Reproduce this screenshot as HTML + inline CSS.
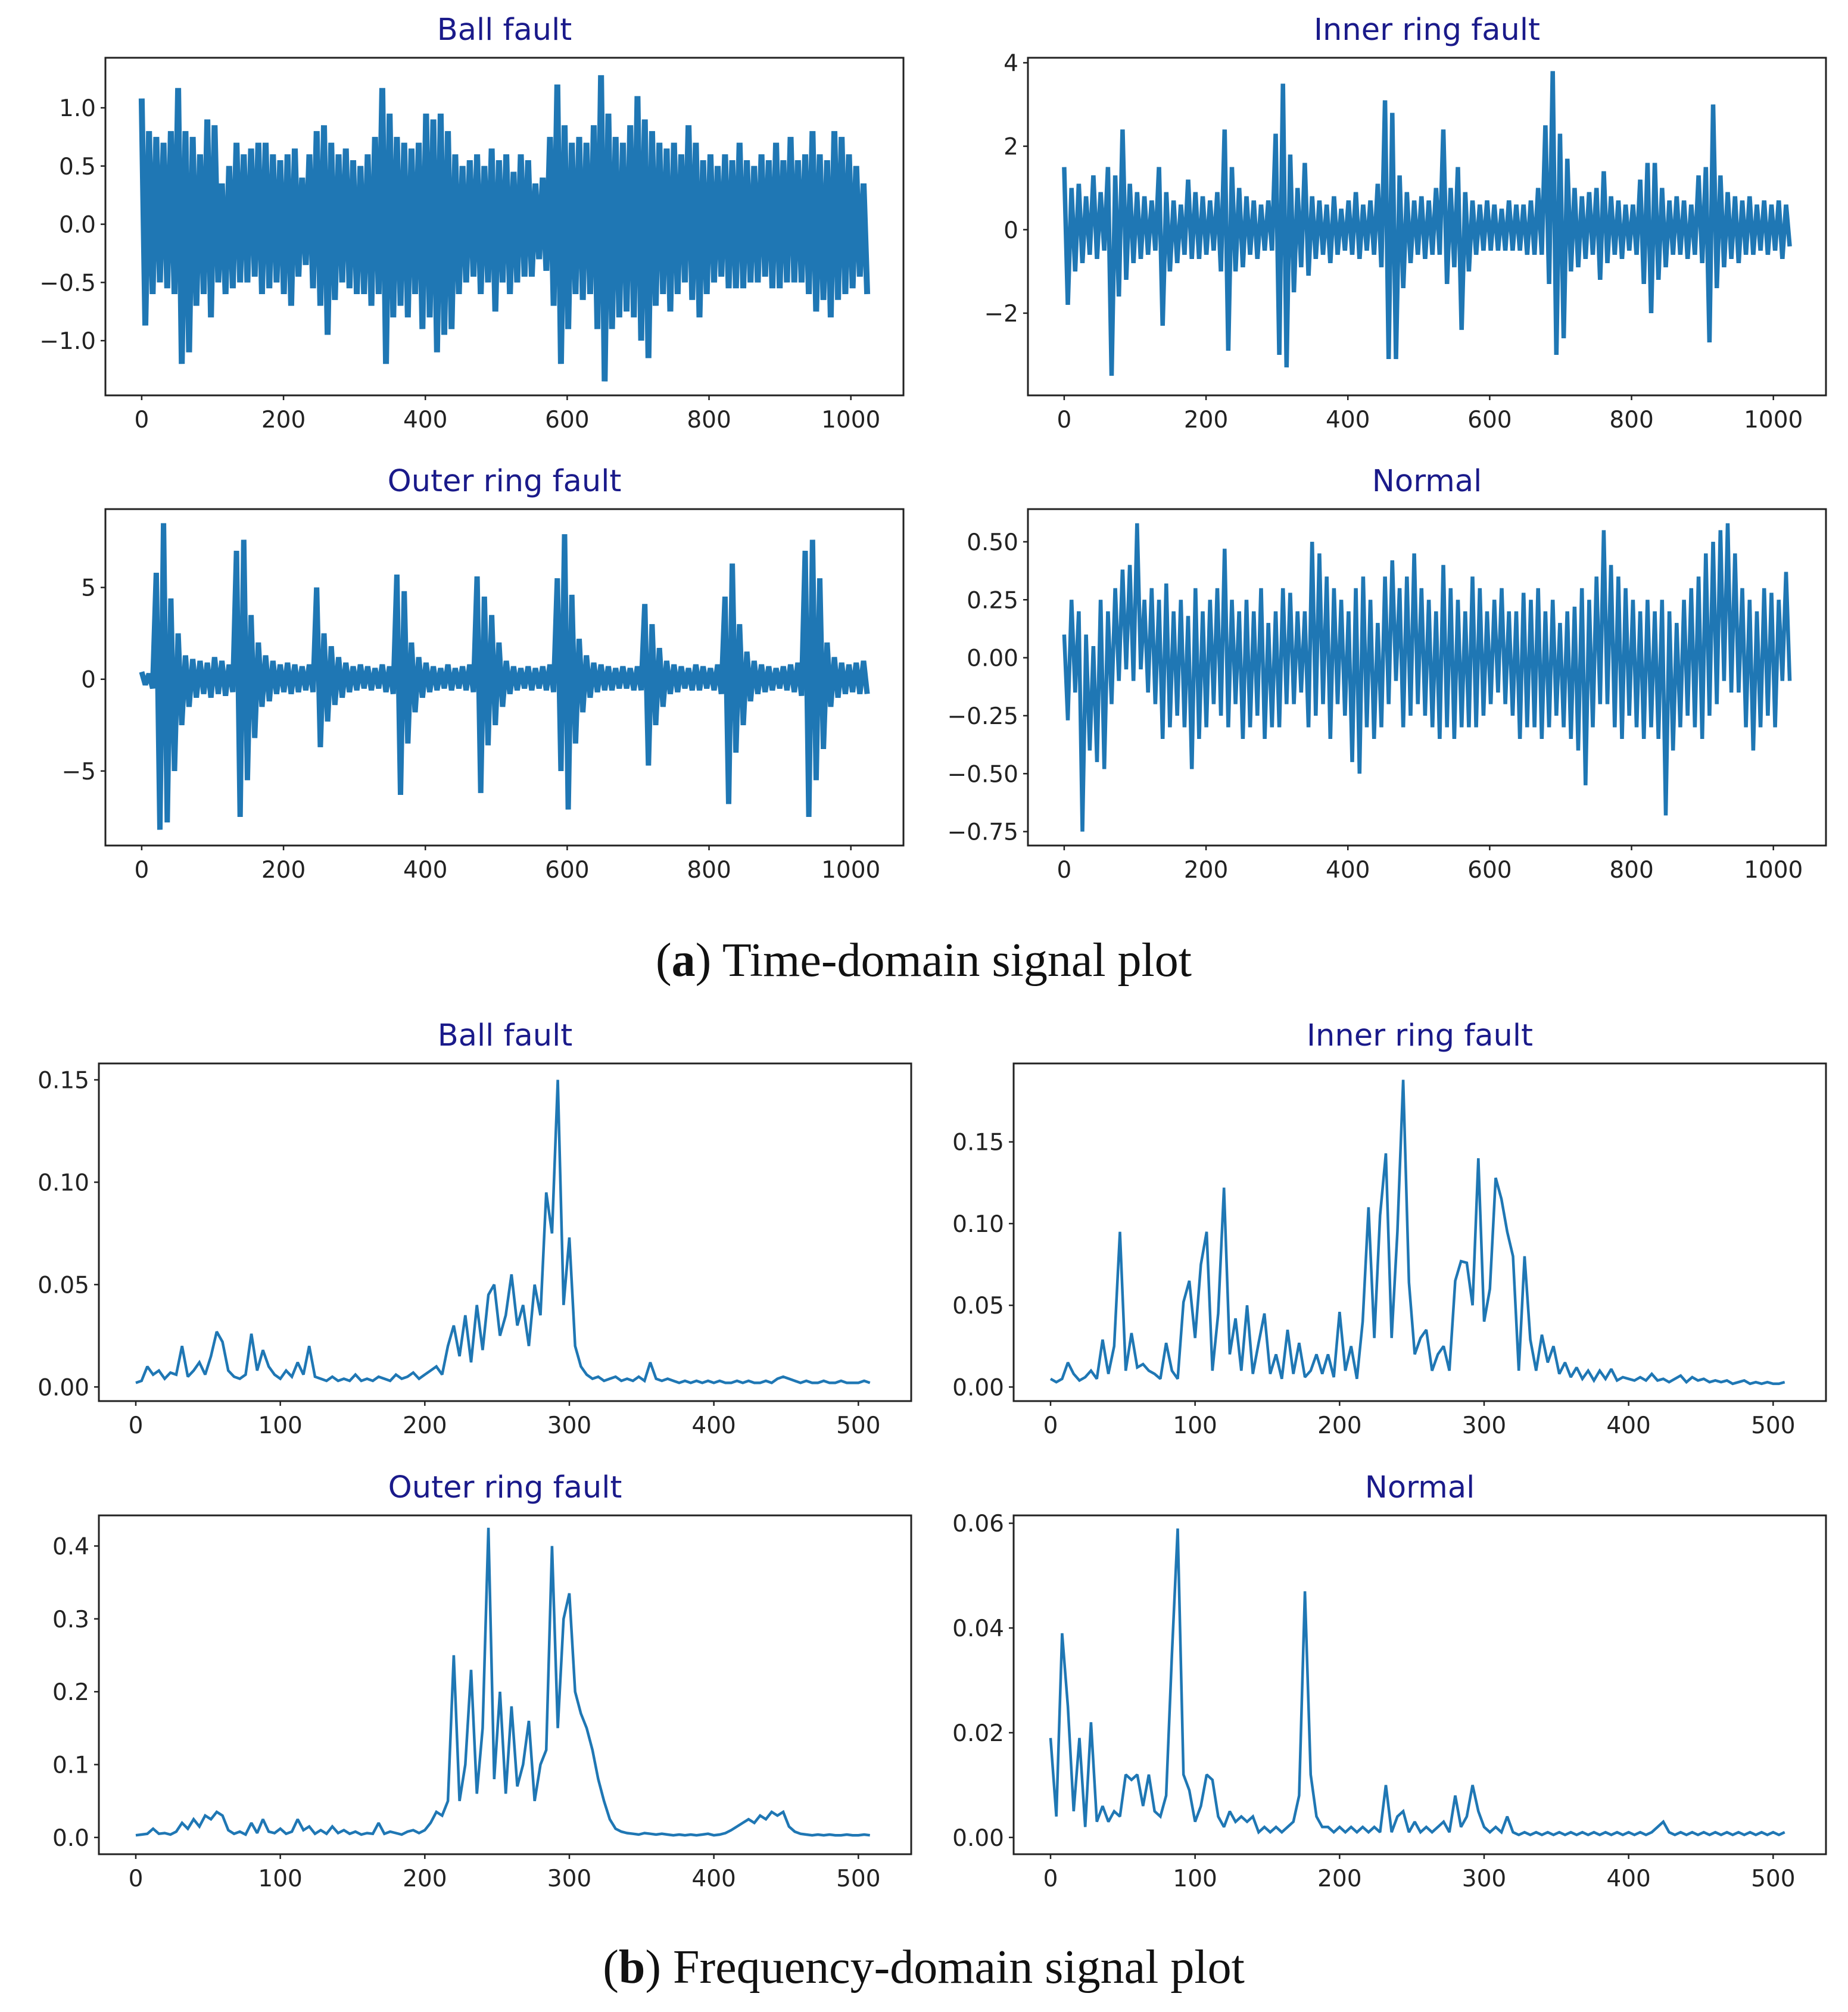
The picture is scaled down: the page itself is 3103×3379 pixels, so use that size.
<!DOCTYPE html>
<html><head><meta charset="utf-8">
<style>
html,body{margin:0;padding:0;background:#fff;}
svg{display:block;}
.tick{font-family:"DejaVu Sans","Liberation Sans",sans-serif;font-size:39px;fill:#222;}
.ttl{font-family:"DejaVu Sans","Liberation Sans",sans-serif;font-size:51px;fill:#1a1a8a;}
.cap{font-family:"Liberation Serif",serif;font-size:80px;fill:#111;}
</style></head>
<body>
<svg id="fig" width="3103" height="3379" viewBox="0 0 3103 3379" xmlns="http://www.w3.org/2000/svg">
<text class="cap" x="1551" y="1639" text-anchor="middle">(<tspan font-weight="bold">a</tspan>) Time-domain signal plot</text>
<text class="cap" x="1551" y="3330" text-anchor="middle">(<tspan font-weight="bold">b</tspan>) Frequency-domain signal plot</text>
</svg>
<script>
// ---- Time-domain data (alternating local max / min, evenly spread over samples 0..1023)
const ballTime=[1.08,-0.87,0.8,-0.6,0.75,-0.5,0.7,-0.55,0.8,-0.6,1.17,-1.2,0.8,-1.1,0.75,-0.7,0.6,-0.6,0.9,-0.8,0.85,-0.5,0.35,-0.6,0.5,-0.55,0.7,-0.5,0.6,-0.5,0.65,-0.45,0.7,-0.6,0.7,-0.55,0.6,-0.5,0.55,-0.6,0.6,-0.7,0.65,-0.45,0.4,-0.35,0.6,-0.55,0.8,-0.7,0.85,-0.95,0.7,-0.65,0.6,-0.5,0.65,-0.55,0.55,-0.6,0.5,-0.6,0.6,-0.7,0.75,-0.6,1.17,-1.2,0.95,-0.8,0.75,-0.7,0.7,-0.8,0.65,-0.6,0.7,-0.9,0.95,-0.8,0.9,-1.1,0.95,-0.95,0.8,-0.9,0.6,-0.6,0.5,-0.5,0.55,-0.45,0.6,-0.6,0.5,-0.5,0.65,-0.75,0.55,-0.5,0.6,-0.6,0.45,-0.5,0.6,-0.45,0.55,-0.45,0.35,-0.3,0.4,-0.4,0.75,-0.7,1.2,-1.2,0.85,-0.9,0.7,-0.6,0.75,-0.65,0.7,-0.6,0.85,-0.9,1.28,-1.35,0.95,-0.9,0.75,-0.8,0.7,-0.75,0.85,-0.8,1.1,-1.0,0.9,-1.15,0.8,-0.7,0.7,-0.6,0.65,-0.75,0.7,-0.6,0.6,-0.5,0.85,-0.65,0.7,-0.8,0.55,-0.6,0.6,-0.5,0.5,-0.45,0.6,-0.55,0.55,-0.55,0.7,-0.55,0.55,-0.5,0.5,-0.5,0.6,-0.45,0.55,-0.55,0.7,-0.55,0.55,-0.5,0.75,-0.5,0.55,-0.5,0.6,-0.6,0.8,-0.75,0.6,-0.65,0.55,-0.8,0.8,-0.65,0.75,-0.6,0.6,-0.55,0.5,-0.45,0.35,-0.6];
const innerTime=[1.5,-1.8,1.0,-1.0,1.1,-0.8,0.8,-0.6,1.3,-0.7,0.9,-0.5,1.5,-3.5,1.3,-1.6,2.4,-1.2,1.1,-0.8,0.9,-0.7,0.8,-0.6,0.7,-0.5,1.5,-2.3,0.9,-1.0,0.7,-0.8,0.6,-0.6,1.2,-0.7,0.9,-0.7,0.8,-0.6,0.7,-0.5,0.9,-1.0,2.4,-2.9,1.5,-1.0,1.0,-0.9,0.8,-0.6,0.7,-0.7,0.6,-0.5,0.7,-0.5,2.3,-3.0,3.5,-3.3,1.8,-1.5,1.0,-0.9,1.6,-1.1,0.8,-0.7,0.7,-0.6,0.6,-0.8,0.8,-0.6,0.5,-0.5,0.7,-0.6,0.9,-0.7,0.6,-0.5,0.7,-0.6,1.1,-0.9,3.1,-3.1,2.8,-3.1,1.3,-1.4,0.9,-0.8,0.7,-0.6,0.8,-0.7,0.7,-0.6,1.0,-0.6,2.4,-1.3,1.0,-0.9,1.5,-2.4,0.9,-1.0,0.7,-0.6,0.6,-0.5,0.7,-0.5,0.6,-0.5,0.5,-0.5,0.7,-0.5,0.6,-0.5,0.6,-0.6,0.7,-0.6,1.0,-0.6,2.5,-1.3,3.8,-3.0,2.3,-2.6,1.7,-1.0,1.0,-0.9,0.8,-0.7,0.9,-0.6,1.0,-1.2,1.4,-0.8,0.8,-0.6,0.7,-0.7,0.6,-0.5,0.6,-0.6,1.2,-1.3,1.6,-2.0,1.6,-1.2,1.0,-0.9,0.7,-0.6,0.8,-0.6,0.7,-0.7,0.6,-0.6,1.3,-0.8,1.5,-2.7,3.0,-1.4,1.3,-0.9,0.9,-0.7,0.8,-0.8,0.7,-0.6,0.8,-0.6,0.6,-0.5,0.7,-0.6,0.6,-0.5,0.7,-0.7,0.6,-0.4];
const outerTime=[0.4,-0.3,0.3,-0.5,5.8,-8.2,8.5,-7.8,4.4,-5.0,2.5,-2.5,1.3,-1.5,1.1,-1.0,1.0,-0.8,0.9,-1.0,1.2,-0.8,1.0,-0.9,0.8,-0.7,7.0,-7.5,7.6,-5.5,3.5,-3.2,2.0,-1.5,1.3,-1.2,1.0,-0.8,0.8,-0.7,0.9,-0.8,0.8,-0.7,0.7,-0.6,0.8,-0.7,5.0,-3.7,2.5,-2.3,1.8,-1.4,1.2,-1.0,0.9,-0.7,0.7,-0.6,0.8,-0.5,0.7,-0.6,0.6,-0.5,0.8,-0.7,0.7,-0.8,5.7,-6.3,4.8,-3.5,2.0,-1.8,1.2,-1.0,0.9,-0.7,0.7,-0.6,0.6,-0.5,0.8,-0.6,0.6,-0.5,0.7,-0.6,0.8,-0.7,5.6,-6.2,4.5,-3.6,3.5,-2.5,2.0,-1.5,1.0,-0.8,0.7,-0.6,0.6,-0.5,0.7,-0.6,0.6,-0.5,0.7,-0.6,0.8,-0.7,5.5,-5.0,7.9,-7.1,4.6,-3.5,2.2,-1.8,1.3,-1.0,0.9,-0.7,0.8,-0.6,0.7,-0.6,0.6,-0.5,0.7,-0.5,0.6,-0.6,0.7,-0.6,4.1,-4.7,3.0,-2.5,1.7,-1.5,1.0,-0.8,0.8,-0.7,0.7,-0.5,0.6,-0.6,0.8,-0.6,0.7,-0.5,0.6,-0.6,0.8,-0.8,4.5,-6.8,6.3,-4.0,3.0,-2.5,1.5,-1.2,1.0,-0.8,0.8,-0.7,0.7,-0.6,0.6,-0.5,0.7,-0.6,0.8,-0.7,0.9,-0.9,7.0,-7.5,7.6,-5.5,5.5,-3.8,2.0,-1.5,1.2,-1.0,0.9,-0.8,0.8,-0.7,0.9,-0.8,1.0,-0.8];
const normalTime=[0.1,-0.27,0.25,-0.15,0.2,-0.75,0.1,-0.4,0.05,-0.45,0.25,-0.48,0.2,-0.2,0.3,-0.1,0.38,-0.05,0.4,-0.1,0.58,-0.05,0.25,-0.15,0.3,-0.2,0.25,-0.35,0.32,-0.3,0.2,-0.25,0.25,-0.3,0.18,-0.48,0.3,-0.35,0.2,-0.3,0.25,-0.2,0.3,-0.25,0.47,-0.3,0.25,-0.2,0.2,-0.35,0.25,-0.3,0.2,-0.25,0.3,-0.35,0.15,-0.3,0.2,-0.3,0.3,-0.2,0.28,-0.2,0.2,-0.15,0.2,-0.3,0.5,-0.25,0.45,-0.2,0.35,-0.35,0.3,-0.2,0.25,-0.25,0.2,-0.45,0.3,-0.5,0.35,-0.3,0.25,-0.35,0.15,-0.3,0.35,-0.2,0.42,-0.1,0.3,-0.3,0.35,-0.25,0.45,-0.2,0.3,-0.25,0.25,-0.3,0.2,-0.35,0.4,-0.3,0.3,-0.35,0.25,-0.3,0.2,-0.3,0.35,-0.3,0.3,-0.25,0.2,-0.2,0.25,-0.15,0.3,-0.2,0.2,-0.25,0.2,-0.35,0.28,-0.3,0.25,-0.3,0.3,-0.35,0.2,-0.3,0.25,-0.25,0.15,-0.3,0.2,-0.35,0.22,-0.4,0.3,-0.55,0.25,-0.3,0.35,-0.2,0.55,-0.2,0.4,-0.3,0.35,-0.35,0.3,-0.25,0.25,-0.3,0.2,-0.35,0.25,-0.3,0.2,-0.35,0.25,-0.68,0.2,-0.4,0.15,-0.3,0.25,-0.25,0.3,-0.3,0.35,-0.35,0.45,-0.25,0.5,-0.2,0.55,-0.1,0.58,-0.15,0.45,-0.15,0.3,-0.3,0.25,-0.4,0.2,-0.3,0.3,-0.25,0.28,-0.3,0.25,-0.1,0.37,-0.1];
// ---- Frequency-domain data (every 4th bin, bins 0..508)
const ballFreq=[0.002,0.003,0.01,0.006,0.008,0.004,0.007,0.006,0.02,0.005,0.008,0.012,0.006,0.015,0.027,0.022,0.008,0.005,0.004,0.006,0.026,0.008,0.018,0.01,0.006,0.004,0.008,0.005,0.012,0.006,0.02,0.005,0.004,0.003,0.005,0.003,0.004,0.003,0.006,0.003,0.004,0.003,0.005,0.004,0.003,0.006,0.004,0.005,0.007,0.004,0.006,0.008,0.01,0.006,0.02,0.03,0.015,0.035,0.012,0.04,0.018,0.045,0.05,0.025,0.035,0.055,0.03,0.04,0.02,0.05,0.035,0.095,0.075,0.15,0.04,0.073,0.02,0.01,0.006,0.004,0.005,0.003,0.004,0.005,0.003,0.004,0.003,0.005,0.003,0.012,0.004,0.003,0.004,0.003,0.002,0.003,0.002,0.003,0.002,0.003,0.002,0.003,0.002,0.002,0.003,0.002,0.003,0.002,0.002,0.003,0.002,0.004,0.005,0.004,0.003,0.002,0.003,0.002,0.002,0.003,0.002,0.002,0.003,0.002,0.002,0.002,0.003,0.002];
const innerFreq=[0.005,0.003,0.005,0.015,0.008,0.004,0.006,0.01,0.005,0.029,0.008,0.025,0.095,0.01,0.033,0.012,0.014,0.01,0.008,0.005,0.027,0.01,0.005,0.052,0.065,0.03,0.075,0.095,0.01,0.045,0.122,0.02,0.042,0.01,0.05,0.008,0.027,0.045,0.008,0.02,0.005,0.035,0.008,0.027,0.006,0.01,0.02,0.008,0.02,0.006,0.046,0.01,0.025,0.005,0.04,0.11,0.03,0.105,0.143,0.03,0.095,0.188,0.064,0.02,0.03,0.035,0.01,0.02,0.025,0.01,0.065,0.077,0.076,0.05,0.14,0.04,0.06,0.128,0.115,0.095,0.08,0.01,0.08,0.029,0.01,0.032,0.015,0.025,0.008,0.015,0.006,0.012,0.005,0.01,0.004,0.01,0.005,0.011,0.004,0.006,0.005,0.004,0.006,0.004,0.008,0.004,0.005,0.003,0.005,0.007,0.003,0.006,0.004,0.005,0.003,0.004,0.003,0.004,0.002,0.003,0.004,0.002,0.003,0.002,0.003,0.002,0.002,0.003];
const outerFreq=[0.003,0.004,0.005,0.012,0.005,0.006,0.004,0.008,0.02,0.012,0.025,0.015,0.03,0.025,0.035,0.03,0.01,0.005,0.008,0.004,0.02,0.006,0.025,0.008,0.006,0.012,0.005,0.008,0.025,0.01,0.015,0.005,0.01,0.005,0.015,0.006,0.01,0.005,0.008,0.004,0.006,0.005,0.02,0.005,0.008,0.006,0.004,0.008,0.01,0.006,0.01,0.02,0.035,0.03,0.05,0.25,0.05,0.1,0.23,0.06,0.15,0.425,0.08,0.2,0.06,0.18,0.07,0.1,0.16,0.05,0.1,0.12,0.4,0.15,0.3,0.335,0.2,0.17,0.15,0.12,0.08,0.05,0.025,0.012,0.008,0.006,0.005,0.004,0.006,0.005,0.004,0.005,0.004,0.003,0.004,0.003,0.004,0.003,0.004,0.005,0.003,0.004,0.006,0.01,0.015,0.02,0.025,0.02,0.03,0.025,0.035,0.03,0.035,0.015,0.008,0.005,0.004,0.003,0.004,0.003,0.004,0.003,0.003,0.004,0.003,0.003,0.004,0.003];
const normalFreq=[0.019,0.004,0.039,0.025,0.005,0.019,0.002,0.022,0.003,0.006,0.003,0.005,0.004,0.012,0.011,0.012,0.006,0.012,0.005,0.004,0.008,0.035,0.059,0.012,0.009,0.003,0.006,0.012,0.011,0.004,0.002,0.005,0.003,0.004,0.003,0.004,0.001,0.002,0.001,0.002,0.001,0.002,0.003,0.008,0.047,0.012,0.004,0.002,0.002,0.001,0.002,0.001,0.002,0.001,0.002,0.001,0.002,0.001,0.01,0.001,0.004,0.005,0.001,0.003,0.001,0.002,0.001,0.002,0.003,0.001,0.008,0.002,0.004,0.01,0.005,0.002,0.001,0.002,0.001,0.004,0.001,0.0005,0.001,0.0005,0.001,0.0005,0.001,0.0005,0.001,0.0005,0.001,0.0005,0.001,0.0005,0.001,0.0005,0.001,0.0005,0.001,0.0005,0.001,0.0005,0.001,0.0005,0.001,0.002,0.003,0.001,0.0005,0.001,0.0005,0.001,0.0005,0.001,0.0005,0.001,0.0005,0.001,0.0005,0.001,0.0005,0.001,0.0005,0.001,0.0005,0.001,0.0005,0.001];
const timeTicks=[0,200,400,600,800,1000];
const freqTicks=[0,100,200,300,400,500];
const ballTimeYTicks=[-1.0,-0.5,0.0,0.5,1.0];
const innerTimeYTicks=[-2,0,2,4];
const outerTimeYTicks=[-5,0,5];
const normalTimeYTicks=[-0.75,-0.5,-0.25,0,0.25,0.5];
const ballFreqYTicks=[0,0.05,0.10,0.15];
const innerFreqYTicks=[0,0.05,0.10,0.15];
const outerFreqYTicks=[0,0.1,0.2,0.3,0.4];
const normalFreqYTicks=[0,0.02,0.04,0.06];

const NS="http://www.w3.org/2000/svg";
const svg=document.getElementById('fig');
function mk(tag,attrs,parent){const e=document.createElementNS(NS,tag);for(const k in attrs)e.setAttribute(k,attrs[k]);(parent||svg).appendChild(e);return e;}
function fmtNum(v,d){const s=Math.abs(v).toFixed(d);return (v<0?'\u2212':'')+s;}

function panel(c){
  const g=mk('g',{});
  
  
  const sx=v=>c.x0+(v-c.xmin)/(c.xmax-c.xmin)*c.w;
  const sy=v=>c.y0+c.h-(v-c.ymin)/(c.ymax-c.ymin)*c.h;
  const n=c.vals.length;
  let d='';
  for(let i=0;i<n;i++){const xv=c.xs(i,n);d+=(i?'L':'M')+sx(xv).toFixed(1)+' '+sy(c.vals[i]).toFixed(1);}
  const clip=mk('clipPath',{id:'clip-'+c.name},g);
  mk('rect',{x:c.x0,y:c.y0,width:c.w,height:c.h},clip);
  const line=mk('path',{d:d,fill:'none',stroke:'#1f77b4','stroke-width':c.lw,'stroke-linejoin':'miter','stroke-miterlimit':2,'clip-path':'url(#clip-'+c.name+')'},g);
  
  
  const frame=mk('rect',{x:c.x0,y:c.y0,width:c.w,height:c.h,fill:'none',stroke:'#222','stroke-width':3},g);
  
  
  c.xticks.forEach(t=>{
    const x=sx(t);
    mk('line',{x1:x,x2:x,y1:c.y0+c.h,y2:c.y0+c.h+8,stroke:'#222','stroke-width':2.5},g);
    const tx=mk('text',{x:x,y:c.y0+c.h+54,'text-anchor':'middle',class:'tick'},g);
    tx.textContent=String(t);
    
    
  });
  c.yticks.forEach(t=>{
    const y=sy(t);
    mk('line',{x1:c.x0-8,x2:c.x0,y1:y,y2:y,stroke:'#222','stroke-width':2.5},g);
    const tx=mk('text',{x:c.x0-16,y:y+14,'text-anchor':'end',class:'tick'},g);
    tx.textContent=fmtNum(t,c.dec);
    
    
  });
  const ti=mk('text',{x:c.x0+c.w/2,y:c.y0-30,'text-anchor':'middle',class:'ttl'},g);
  ti.textContent=c.title;
  
  
}
const tx=(i,n)=>i*1023/(n-1);
const fx=(i,n)=>i*4;
const TX=[-51.15,1074.15], FX=[-25.55,536.55];
panel({name:'ball-fault-time',x0:177,y0:97,w:1340,h:567,xmin:TX[0],xmax:TX[1],ymin:-1.47,ymax:1.43,vals:ballTime,xs:tx,xticks:timeTicks,yticks:ballTimeYTicks,dec:1,title:'Ball fault',lw:10});
panel({name:'inner-ring-fault-time',x0:1726,y0:97,w:1340,h:567,xmin:TX[0],xmax:TX[1],ymin:-3.97,ymax:4.12,vals:innerTime,xs:tx,xticks:timeTicks,yticks:innerTimeYTicks,dec:0,title:'Inner ring fault',lw:7.5});
panel({name:'outer-ring-fault-time',x0:177,y0:855,w:1340,h:565,xmin:TX[0],xmax:TX[1],ymin:-9.06,ymax:9.27,vals:outerTime,xs:tx,xticks:timeTicks,yticks:outerTimeYTicks,dec:0,title:'Outer ring fault',lw:9});
panel({name:'normal-time',x0:1726,y0:855,w:1340,h:565,xmin:TX[0],xmax:TX[1],ymin:-0.81,ymax:0.641,vals:normalTime,xs:tx,xticks:timeTicks,yticks:normalTimeYTicks,dec:2,title:'Normal',lw:6.5});
panel({name:'ball-fault-freq',x0:166,y0:1786,w:1364,h:567,xmin:FX[0],xmax:FX[1],ymin:-0.0069,ymax:0.158,vals:ballFreq,xs:fx,xticks:freqTicks,yticks:ballFreqYTicks,dec:2,title:'Ball fault',lw:4.5});
panel({name:'inner-ring-fault-freq',x0:1702,y0:1786,w:1364,h:567,xmin:FX[0],xmax:FX[1],ymin:-0.0086,ymax:0.198,vals:innerFreq,xs:fx,xticks:freqTicks,yticks:innerFreqYTicks,dec:2,title:'Inner ring fault',lw:4.5});
panel({name:'outer-ring-fault-freq',x0:166,y0:2545,w:1364,h:569,xmin:FX[0],xmax:FX[1],ymin:-0.023,ymax:0.442,vals:outerFreq,xs:fx,xticks:freqTicks,yticks:outerFreqYTicks,dec:1,title:'Outer ring fault',lw:4.5});
panel({name:'normal-freq',x0:1702,y0:2545,w:1364,h:569,xmin:FX[0],xmax:FX[1],ymin:-0.0032,ymax:0.0615,vals:normalFreq,xs:fx,xticks:freqTicks,yticks:normalFreqYTicks,dec:2,title:'Normal',lw:4.5});
</script>
</body></html>
